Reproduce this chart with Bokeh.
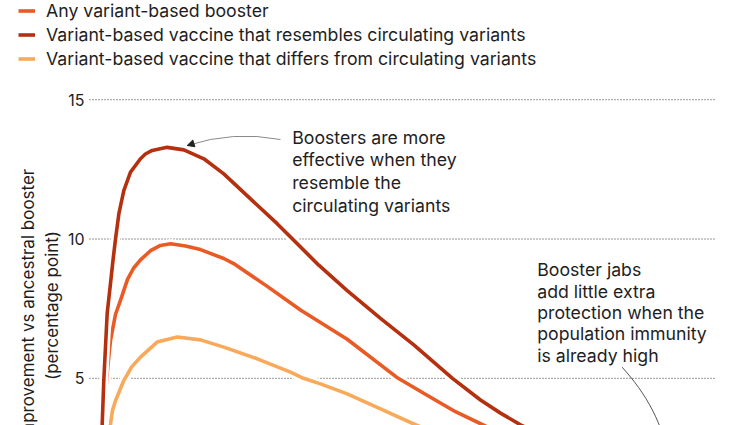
from bokeh.plotting import figure
from bokeh.models import (Range1d, FixedTicker, Legend, LegendItem, Label,
                          Arrow, NormalHead, ColumnDataSource)
from bokeh.embed import file_html
from bokeh.resources import INLINE

# ---------------- data ----------------
series_names = [
    "Any variant-based booster",
    "Variant-based vaccine that resembles circulating variants",
    "Variant-based vaccine that differs from circulating variants",
]

x_resembles = [1.93, 2.03, 2.28, 2.82, 3.32, 3.78, 4.15, 4.68, 5.47, 6.54, 8.13,
               8.92, 10.0, 12.39, 15.05, 18.24, 21.42, 25.68, 29.93, 32.06, 36.52,
               41.10, 46.41, 51.72, 57.89, 62.36, 65.55, 68.74, 72.73]
y_resembles = [2.8, 3.37, 4.92, 7.33, 8.35, 9.3, 10.0, 10.9, 11.74, 12.4, 12.88,
               13.05, 13.18, 13.29, 13.2, 12.88, 12.34, 11.44, 10.55, 10.07, 9.07,
               8.15, 7.15, 6.2, 5.0, 4.22, 3.75, 3.33, 2.9]

x_any = [2.23, 2.28, 2.55, 2.95, 3.35, 4.15, 4.94, 6.06, 7.02, 8.13, 9.73,
         11.32, 12.92, 15.31, 17.70, 21.42, 22.99, 28.35, 33.65, 41.10, 49.23,
         54.39, 58.37, 62.36, 66.35]
y_any = [2.9, 3.38, 4.46, 5.5, 6.36, 7.3, 7.8, 8.55, 8.95, 9.25, 9.58,
         9.77, 9.83, 9.75, 9.62, 9.3, 9.12, 8.3, 7.45, 6.4, 5.0,
         4.32, 3.8, 3.37, 2.95]

x_differs = [2.94, 3.35, 3.67, 4.15, 5.47, 6.70, 8.13, 10.79, 13.99,
             17.70, 21.42, 26.75, 32.06, 34.13, 36.84, 41.10, 46.41, 51.72, 55.98]
y_differs = [2.9, 3.36, 3.85, 4.2, 4.92, 5.4, 5.76, 6.3, 6.48,
             6.38, 6.12, 5.7, 5.22, 5.0, 4.8, 4.44, 3.9, 3.36, 2.95]

x_extent = [0, 100]          # horizontal extent of the value grid
y_ticks = [5, 10, 15]
y_label_lines = ["Improvement vs ancestral booster", "(percentage point)"]
note_match = ["Boosters are more", "effective when they", "resemble the",
              "circulating variants"]
note_immunity = ["Booster jabs", "add little extra", "protection when the",
                 "population immunity", "is already high"]

# annotation arrow paths (data units)
arrow1 = dict(x0=30.46, y0=13.571, cx=22.92, cy=13.894, x1=15.58, y1=13.356)
arrow2 = dict(x0=84.96, y0=5.398, cx0=88.68, cy0=4.455, cx1=91.39, cy1=3.485,
              x1=92.98, y1=1.691)

# ---------------- styling ----------------
FONT = "Inter"
TXT = "#1e1e1e"
c_any = "#ea5a24"
c_res = "#b5300f"
c_dif = "#f8a95a"

p = figure(width=751, height=425, output_backend="svg", toolbar_location=None,
           x_range=Range1d(-14.195, 105.582), y_range=Range1d(3.306, 18.561),
           x_axis_location=None, y_axis_location="left",
           min_border_left=0, min_border_right=0,
           min_border_top=0, min_border_bottom=0)
p.outline_line_color = None
p.background_fill_color = "white"
p.border_fill_color = "white"
p.xgrid.visible = False
p.ygrid.visible = False

yax = p.yaxis[0]
yax.fixed_location = x_extent[0]
yax.ticker = FixedTicker(ticks=y_ticks)
yax.axis_line_color = None
yax.major_tick_line_color = None
yax.minor_tick_line_color = None
yax.major_tick_out = 0
yax.major_tick_in = 0
yax.major_label_standoff = 5
yax.major_label_text_font = FONT
yax.major_label_text_font_size = "16px"
yax.major_label_text_color = TXT

# dotted value grid, limited to the plotting area
grid_src = ColumnDataSource(dict(x0=[x_extent[0]] * len(y_ticks),
                                 x1=[x_extent[1]] * len(y_ticks), y=y_ticks))
p.segment(x0="x0", y0="y", x1="x1", y1="y", source=grid_src,
          line_color="#333333", line_width=1, line_dash="1 2")

renderers = {}
for key, xs, ys, col in [("dif", x_differs, y_differs, c_dif),
                         ("any", x_any, y_any, c_any),
                         ("res", x_resembles, y_resembles, c_res)]:
    src = ColumnDataSource(dict(x=xs, y=ys))
    p.line("x", "y", source=src, line_color="white", line_width=9,
           line_join="round", line_cap="round")
    renderers[key] = p.line("x", "y", source=src, line_color=col, line_width=3.6,
                            line_join="round")

legend = Legend(items=[
    LegendItem(label=series_names[0], renderers=[renderers["any"]]),
    LegendItem(label=series_names[1], renderers=[renderers["res"]]),
    LegendItem(label=series_names[2], renderers=[renderers["dif"]]),
], location=(18, 356))
legend.label_text_font = FONT
legend.label_text_font_size = "17.7px"
legend.label_text_color = TXT
legend.glyph_width = 17
legend.glyph_height = 21
legend.label_height = 21
legend.label_standoff = 11
legend.spacing = 3
legend.padding = 0
legend.margin = 0
legend.border_line_color = None
legend.background_fill_alpha = 0
p.add_layout(legend, "center")

# arrows
p.quadratic(x0=[arrow1["x0"]], y0=[arrow1["y0"]], x1=[arrow1["x1"]], y1=[arrow1["y1"]],
            cx=[arrow1["cx"]], cy=[arrow1["cy"]], line_color="#8a8a8a", line_width=1)
p.add_layout(Arrow(x_start=16.32, y_start=13.410, x_end=arrow1["x1"], y_end=arrow1["y1"],
                   line_color="#8a8a8a", line_width=1,
                   end=NormalHead(size=7, fill_color="#222222", line_color="#222222")))
p.bezier(x0=[arrow2["x0"]], y0=[arrow2["y0"]], x1=[arrow2["x1"]], y1=[arrow2["y1"]],
         cx0=[arrow2["cx0"]], cy0=[arrow2["cy0"]], cx1=[arrow2["cx1"]], cy1=[arrow2["cy1"]],
         line_color="#555555", line_width=1)

# texts (screen units: x from left edge, y from bottom edge)
def add_text(txt, x, y, size="17.7px", **kw):
    p.add_layout(Label(x=x, y=y, x_units="screen", y_units="screen", text=txt,
                       text_font=FONT, text_font_size=size, text_color=TXT, **kw))

add_text(y_label_lines[0], 27, 120, size="17px", angle=90, angle_units="deg",
         text_align="center", text_baseline="middle")
add_text(y_label_lines[1], 51, 120, size="17px", angle=90, angle_units="deg",
         text_align="center", text_baseline="middle")

for i, line in enumerate(note_match):
    add_text(line, 291.7, 425 - (136.7 + 22.7 * i), text_baseline="alphabetic")
for i, line in enumerate(note_immunity):
    add_text(line, 536.7, 425 - (269.3 + 21.3 * i), text_baseline="alphabetic")

open("out.html", "w").write(file_html(p, INLINE))
